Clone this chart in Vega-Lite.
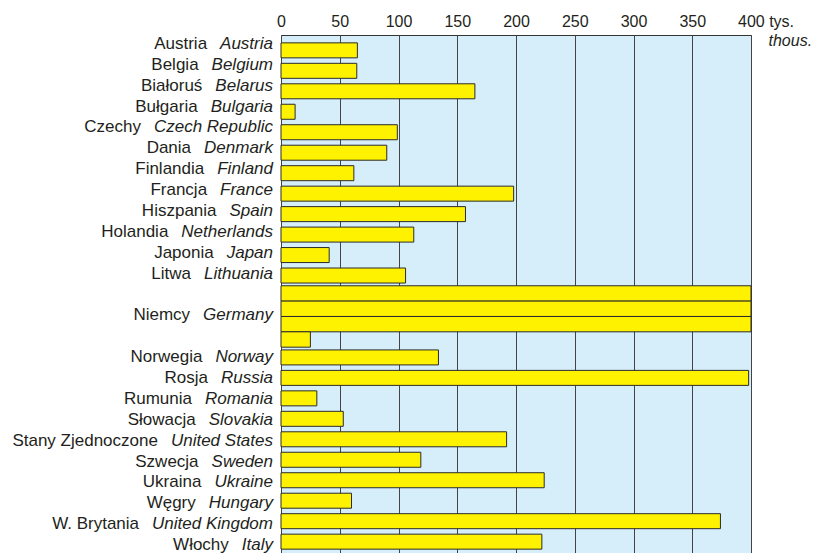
{
  "$schema": "https://vega.github.io/schema/vega-lite/v6.json",
  "width": 470,
  "height": 522,
  "autosize": "none",
  "padding": {"left": 281, "top": 35, "right": 64, "bottom": 0},
  "background": "white",
  "config": {
    "view": {"fill": "#D5EEFA", "stroke": "#333333", "strokeWidth": 1},
    "font": "Liberation Sans"
  },
  "data": {
    "values": [
      {"pl": "Austria", "en": "Austria", "v": 65},
      {"pl": "Belgia", "en": "Belgium", "v": 64.5},
      {"pl": "Białoruś", "en": "Belarus", "v": 165},
      {"pl": "Bułgaria", "en": "Bulgaria", "v": 12},
      {"pl": "Czechy", "en": "Czech Republic", "v": 99},
      {"pl": "Dania", "en": "Denmark", "v": 90},
      {"pl": "Finlandia", "en": "Finland", "v": 62},
      {"pl": "Francja", "en": "France", "v": 198},
      {"pl": "Hiszpania", "en": "Spain", "v": 157},
      {"pl": "Holandia", "en": "Netherlands", "v": 113},
      {"pl": "Japonia", "en": "Japan", "v": 41},
      {"pl": "Litwa", "en": "Lithuania", "v": 106},
      {"pl": "Niemcy", "en": "Germany", "v": 400, "seg": 1},
      {"pl": "Niemcy", "en": "Germany", "v": 400, "seg": 2},
      {"pl": "Niemcy", "en": "Germany", "v": 400, "seg": 3},
      {"pl": "Niemcy", "en": "Germany", "v": 25, "seg": 4},
      {"pl": "Norwegia", "en": "Norway", "v": 134},
      {"pl": "Rosja", "en": "Russia", "v": 398},
      {"pl": "Rumunia", "en": "Romania", "v": 30.5},
      {"pl": "Słowacja", "en": "Slovakia", "v": 53},
      {"pl": "Stany Zjednoczone", "en": "United States", "v": 192},
      {"pl": "Szwecja", "en": "Sweden", "v": 119},
      {"pl": "Ukraina", "en": "Ukraine", "v": 224},
      {"pl": "Węgry", "en": "Hungary", "v": 60},
      {"pl": "W. Brytania", "en": "United Kingdom", "v": 374},
      {"pl": "Włochy", "en": "Italy", "v": 222}
    ]
  },
  "resolve": {"scale": {"y": "independent"}, "axis": {"y": "independent"}},
  "layer": [
    {
      "transform": [{"filter": "datum.pl != 'Niemcy'"}],
      "mark": {"type": "bar", "fill": "#FFF200", "stroke": "#2B2B2B", "strokeWidth": 1, "height": {"band": 0.733}},
      "encoding": {
        "x": {
          "field": "v", "type": "quantitative",
          "scale": {"domain": [0, 400], "nice": false, "zero": true},
          "axis": {
            "orient": "top",
            "values": [0, 50, 100, 150, 200, 250, 300, 350, 400],
            "domain": false,
            "ticks": false,
            "grid": true,
            "gridColor": "#444444",
            "gridWidth": 1,
            "gridOpacity": 1,
            "labelFont": "Liberation Sans",
            "labelFontSize": 16,
            "labelColor": "#231F20",
            "labelPadding": 6,
            "labelFlush": false,
            "labelOverlap": false,
            "labelExpr": "datum.value == 400 ? '400 tys.' : datum.label",
            "labelAlign": {"condition": {"test": "datum.value == 400", "value": "left"}, "value": "center"},
            "labelOffset": {"condition": {"test": "datum.value == 400", "value": -13.5}, "value": 0},
            "title": "thous.",
            "titleFont": "Liberation Sans",
            "titleFontSize": 16,
            "titleFontStyle": "italic",
            "titleFontWeight": "normal",
            "titleColor": "#231F20",
            "titleX": 487,
            "titleY": 5,
            "titleAlign": "left",
            "titleBaseline": "middle",
            "titleAngle": 0
          }
        },
        "y": {
          "field": "pl", "type": "nominal", "sort": null, "axis": null,
          "scale": {
            "domain": ["Austria", "Belgia", "Białoruś", "Bułgaria", "Czechy", "Dania", "Finlandia", "Francja", "Hiszpania", "Holandia", "Japonia", "Litwa", "_1", "Niemcy", "_2", "Norwegia", "Rosja", "Rumunia", "Słowacja", "Stany Zjednoczone", "Szwecja", "Ukraina", "Węgry", "W. Brytania", "Włochy"],
            "paddingInner": 0, "paddingOuter": 0.25
          }
        }
      }
    },
    {
      "transform": [{"filter": "datum.pl == 'Niemcy'"}],
      "mark": {"type": "bar", "fill": "#FFF200", "stroke": "#2B2B2B", "strokeWidth": 1},
      "encoding": {
        "x": {"field": "v", "type": "quantitative"},
        "y": {
          "field": "seg", "type": "ordinal", "axis": null,
          "scale": {"domain": [1, 2, 3, 4], "range": [250.77, 312.18], "paddingInner": 0, "paddingOuter": 0}
        }
      }
    },
    {
      "transform": [{"filter": "!(datum.seg > 1)"}],
      "mark": {"type": "text", "align": "right", "baseline": "middle", "dx": -8, "dy": -1.5, "font": "Liberation Sans", "fontSize": 17, "fontStyle": "italic", "color": "#231F20"},
      "encoding": {
        "x": {"datum": 0, "type": "quantitative"},
        "y": {
          "field": "pl", "type": "nominal", "sort": null, "axis": null,
          "scale": {
            "domain": ["Austria", "Belgia", "Białoruś", "Bułgaria", "Czechy", "Dania", "Finlandia", "Francja", "Hiszpania", "Holandia", "Japonia", "Litwa", "_1", "Niemcy", "_2", "Norwegia", "Rosja", "Rumunia", "Słowacja", "Stany Zjednoczone", "Szwecja", "Ukraina", "Węgry", "W. Brytania", "Włochy"],
            "paddingInner": 0, "paddingOuter": 0.25
          }
        },
        "text": {"field": "en"}
      }
    },
    {
      "transform": [{"filter": "!(datum.seg > 1)"}],
      "mark": {
        "type": "text", "align": "right", "baseline": "middle", "dy": -1.5, "font": "Liberation Sans", "fontSize": 17, "color": "#231F20",
        "dx": {"expr": "-(21 + 0.017*(556*length(datum.en) - 334*(length(datum.en)-length(replace(datum.en, regexp('[ijl]','g'), ''))) - 278*(length(datum.en)-length(replace(datum.en, regexp('[ft .I]','g'), ''))) - 223*(length(datum.en)-length(replace(datum.en, regexp('r','g'), ''))) - 56*(length(datum.en)-length(replace(datum.en, regexp('[cksvxyzJ]','g'), ''))) + 111*(length(datum.en)-length(replace(datum.en, regexp('[ABEKPSV]','g'), ''))) + 166*(length(datum.en)-length(replace(datum.en, regexp('[CDHNRUw]','g'), ''))) + 222*(length(datum.en)-length(replace(datum.en, regexp('[GOQ]','g'), ''))) + 277*(length(datum.en)-length(replace(datum.en, regexp('[mM]','g'), ''))) + 55*(length(datum.en)-length(replace(datum.en, regexp('[FTZ]','g'), ''))) + 388*(length(datum.en)-length(replace(datum.en, regexp('W','g'), '')))))"}
      },
      "encoding": {
        "x": {"datum": 0, "type": "quantitative"},
        "y": {
          "field": "pl", "type": "nominal", "sort": null, "axis": null,
          "scale": {
            "domain": ["Austria", "Belgia", "Białoruś", "Bułgaria", "Czechy", "Dania", "Finlandia", "Francja", "Hiszpania", "Holandia", "Japonia", "Litwa", "_1", "Niemcy", "_2", "Norwegia", "Rosja", "Rumunia", "Słowacja", "Stany Zjednoczone", "Szwecja", "Ukraina", "Węgry", "W. Brytania", "Włochy"],
            "paddingInner": 0, "paddingOuter": 0.25
          }
        },
        "text": {"field": "pl"}
      }
    }
  ]
}
